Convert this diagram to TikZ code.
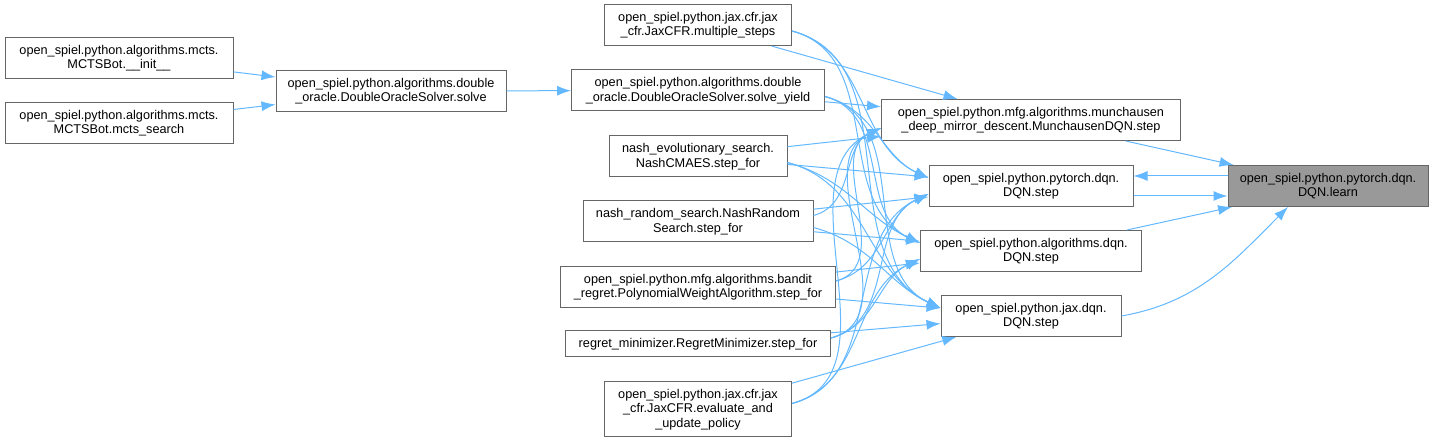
\documentclass[tikz,border=0pt]{standalone}
\usepackage{fontspec}
\setmainfont{Liberation Sans}
\usetikzlibrary{arrows.meta}
\definecolor{edgeblue}{HTML}{63B8FF}
\definecolor{frame}{HTML}{666666}
\definecolor{hilite}{HTML}{999999}

\begin{document}
\begin{tikzpicture}[x=1pt,y=1pt,
    fn/.style={draw=frame,line width=1pt,fill=white,align=center,inner sep=2pt,minimum height=41pt,font=\fontsize{12.7}{14.5}\selectfont},
    call/.style={draw=edgeblue,line width=1pt,-{Latex[length=14pt,width=10pt]}}]
  \useasboundingbox (0,0) rectangle (1434,443);
  \node[fn,minimum width=228pt] (init) at (119,385) {open\_spiel.python.algorithms.mcts.\\MCTSBot.\_\_init\_\_};
  \node[fn,minimum width=228pt] (search) at (119,320) {open\_spiel.python.algorithms.mcts.\\MCTSBot.mcts\_search};
  \node[fn,minimum width=230pt] (solve) at (391,352) {open\_spiel.python.algorithms.double\\\_oracle.DoubleOracleSolver.solve};
  \node[fn,minimum width=187pt] (msteps) at (698,418) {open\_spiel.python.jax.cfr.jax\\\_cfr.JaxCFR.multiple\_steps};
  \node[fn,minimum width=253pt] (yield) at (698,352.5) {open\_spiel.python.algorithms.double\\\_oracle.DoubleOracleSolver.solve\_yield};
  \node[fn,minimum width=178pt] (nashevo) at (698,286.5) {nash\_evolutionary\_search.\\NashCMAES.step\_for};
  \node[fn,minimum width=230pt] (nashrand) at (698,221.5) {nash\_random\_search.NashRandom\\Search.step\_for};
  \node[fn,minimum width=275pt] (bandit) at (698,156) {open\_spiel.python.mfg.algorithms.bandit\\\_regret.PolynomialWeightAlgorithm.step\_for};
  \node[fn,minimum width=265pt,minimum height=26pt] (regret) at (698,99) {regret\_minimizer.RegretMinimizer.step\_for};
  \node[fn,minimum width=187pt,minimum height=55pt] (evalpol) at (698,33.5) {open\_spiel.python.jax.cfr.jax\\\_cfr.JaxCFR.evaluate\_and\\\_update\_policy};
  \node[fn,minimum width=299pt] (munch) at (1031,323) {open\_spiel.python.mfg.algorithms.munchausen\\\_deep\_mirror\_descent.MunchausenDQN.step};
  \node[fn,minimum width=204pt] (torch) at (1031,257) {open\_spiel.python.pytorch.dqn.\\DQN.step};
  \node[fn,minimum width=221pt] (alg) at (1031,192) {open\_spiel.python.algorithms.dqn.\\DQN.step};
  \node[fn,minimum width=180pt] (jax) at (1031,127) {open\_spiel.python.jax.dqn.\\DQN.step};
  \node[fn,fill=hilite,minimum width=200pt] (learn) at (1328,257) {open\_spiel.python.pytorch.dqn.\\DQN.learn};
  % straight calls
  \foreach \a/\b in {init/solve,search/solve,solve/yield,msteps/munch,yield/munch,nashevo/munch,nashevo/torch,nashrand/torch,nashrand/alg,bandit/alg,bandit/jax,regret/jax,evalpol/jax,munch/learn,alg/learn} \draw[call] (\a)--(\b);
  % curved calls, going down
  \foreach \a/\b in {msteps/torch,msteps/alg,msteps/jax,yield/torch,yield/alg,yield/jax,nashevo/alg,nashevo/jax,nashrand/jax} \draw[call] ([yshift=-6pt]\a.east) to[out=-15,in=155] ([yshift=8pt]\b.west);
  % curved calls, going up
  \foreach \a/\b in {nashrand/munch,bandit/munch,bandit/torch,regret/munch,regret/torch,regret/alg,evalpol/munch,evalpol/torch,evalpol/alg} \draw[call] ([yshift=6pt]\a.east) to[out=15,in=205] ([yshift=-8pt]\b.west);
  \draw[call] ([yshift=10pt]learn.west) -- ([yshift=10pt]torch.east);
  \draw[call] ([yshift=-10pt]torch.east) -- ([yshift=-10pt]learn.west);
  \draw[call] (jax.east) to[out=10,in=-135] ([xshift=-40pt]learn.south);
\end{tikzpicture}
\end{document}
